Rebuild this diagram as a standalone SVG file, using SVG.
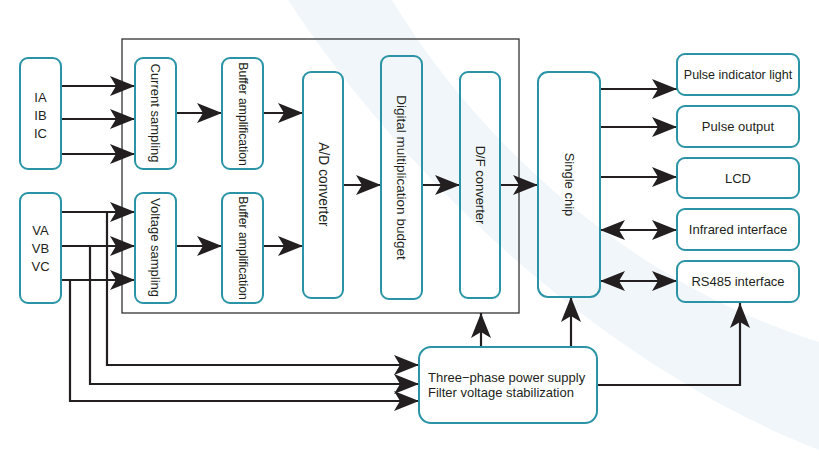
<svg xmlns="http://www.w3.org/2000/svg" width="819" height="459" viewBox="0 0 819 459">
<defs>
<marker id="ah" viewBox="0 0 25 20" refX="25" refY="10" markerWidth="25" markerHeight="20" markerUnits="userSpaceOnUse" orient="auto-start-reverse">
<path d="M0,0 L25,10 L0,20 L6,10 Z" fill="#231f20"/>
</marker>
</defs>
<style>
.box{fill:none;stroke:#2a94a6;stroke-width:2}
.t{font-family:"Liberation Sans",Arial,sans-serif;font-size:13px;fill:#231f20;text-anchor:middle;dominant-baseline:central}
.tl{font-family:"Liberation Sans",Arial,sans-serif;font-size:13px;fill:#231f20}
.c{fill:none;stroke:#231f20;stroke-width:2.2}
.a{marker-end:url(#ah)}
.d{marker-start:url(#ah);marker-end:url(#ah)}
</style>
<rect width="819" height="459" fill="#ffffff"/>
<path d="M288,0 L392,0 C470,130 620,280 819,342 L819,450 C620,372 420,200 288,0 Z" fill="#f0f6fa"/>
<rect x="122" y="39" width="397" height="274" fill="none" stroke="#333" stroke-width="1.3"/>

<g id="connectors">
<path class="c a" d="M61,86 H135"/>
<path class="c a" d="M61,119 H135"/>
<path class="c a" d="M61,154 H135"/>
<path class="c a" d="M61,212 H135"/>
<path class="c a" d="M61,246 H135"/>
<path class="c a" d="M61,280 H135"/>
<path class="c a" d="M107,212 V365 H419"/>
<path class="c a" d="M90,246 V384 H419"/>
<path class="c a" d="M70,280 V401 H419"/>
<path class="c a" d="M176,113 H222"/>
<path class="c a" d="M176,246 H222"/>
<path class="c a" d="M263,113 H303"/>
<path class="c a" d="M263,246 H303"/>
<path class="c a" d="M343,185 H381"/>
<path class="c a" d="M422,185 H460"/>
<path class="c a" d="M500,185 H538"/>
<path class="c a" d="M600,89 H677"/>
<path class="c a" d="M600,127 H677"/>
<path class="c a" d="M600,177 H677"/>
<path class="c d" d="M600,230 H677"/>
<path class="c d" d="M600,281 H677"/>
<path class="c a" d="M481,347 V313"/>
<path class="c a" d="M571,347 V297"/>
<path class="c a" d="M597,385 H740 V303"/>
</g>

<g id="iabc"><rect class="box" x="20" y="58" width="41" height="111" rx="8"/>
<text class="t" x="40.5" y="97">IA</text><text class="t" x="40.5" y="115">IB</text><text class="t" x="40.5" y="133">IC</text></g>
<g id="vabc"><rect class="box" x="20" y="193" width="41" height="110" rx="8"/>
<text class="t" x="40.5" y="230">VA</text><text class="t" x="40.5" y="248">VB</text><text class="t" x="40.5" y="266">VC</text></g>

<g id="current"><rect class="box" x="135" y="58" width="41" height="111" rx="8"/>
<text class="t" transform="translate(155.5,113) rotate(90)">Current sampling</text></g>
<g id="voltage"><rect class="box" x="135" y="193" width="41" height="110" rx="8"/>
<text class="t" transform="translate(155.5,247.5) rotate(90)">Voltage sampling</text></g>
<g id="buf1"><rect class="box" x="222" y="58" width="41" height="111" rx="8"/>
<text class="t" style="font-size:12.2px" transform="translate(242.5,114) rotate(90)">Buffer amplification</text></g>
<g id="buf2"><rect class="box" x="222" y="193" width="41" height="110" rx="8"/>
<text class="t" style="font-size:12.2px" transform="translate(242.5,248) rotate(90)">Buffer amplification</text></g>

<g id="adc"><rect class="box" x="303" y="72" width="40" height="226" rx="8"/>
<text class="t" style="font-size:13.8px" transform="translate(323,184.5) rotate(90)">A/D converter</text></g>
<g id="dmb"><rect class="box" x="381" y="56" width="41" height="243" rx="8"/>
<text class="t" style="font-size:13.5px" transform="translate(401.5,177.5) rotate(90)">Digital multiplication budget</text></g>
<g id="dfc"><rect class="box" x="460" y="72" width="40" height="226" rx="8"/>
<text class="t" transform="translate(480,185) rotate(90)">D/F converter</text></g>
<g id="chip"><rect class="box" x="538" y="72" width="62" height="225" rx="10"/>
<text class="t" transform="translate(569,184.5) rotate(90)">Single chip</text></g>

<g id="pil"><rect class="box" x="677" y="54" width="122" height="41" rx="8"/>
<text class="t" x="738" y="74.5" style="font-size:12.5px">Pulse indicator light</text></g>
<g id="po"><rect class="box" x="677" y="106" width="122" height="41" rx="8"/>
<text class="t" x="738" y="126.5">Pulse output</text></g>
<g id="lcd"><rect class="box" x="677" y="158" width="122" height="40" rx="8"/>
<text class="t" x="738" y="178">LCD</text></g>
<g id="ir"><rect class="box" x="677" y="209" width="122" height="41" rx="8"/>
<text class="t" x="738" y="229.5">Infrared interface</text></g>
<g id="rs485"><rect class="box" x="677" y="261" width="122" height="41" rx="8"/>
<text class="t" x="738" y="281.5">RS485 interface</text></g>

<g id="power"><rect class="box" x="419" y="347" width="178" height="76" rx="12"/>
<text class="tl" x="428" y="382">Three−phase power supply</text>
<text class="tl" x="428" y="397">Filter voltage stabilization</text></g>
</svg>
